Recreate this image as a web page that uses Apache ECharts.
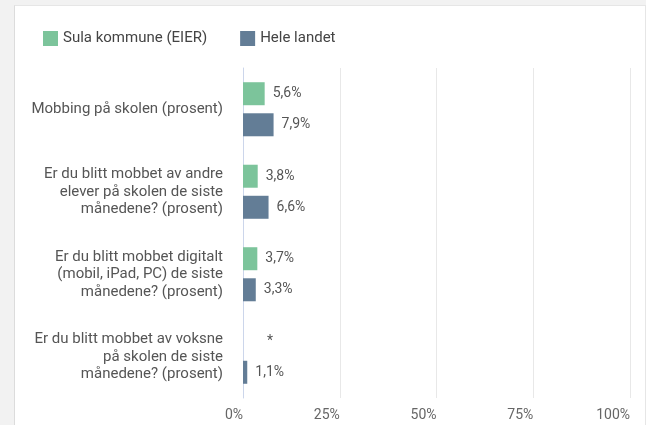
<!DOCTYPE html>
<html><head><meta charset="utf-8">
<script src="https://cdn.jsdelivr.net/npm/echarts@6/dist/echarts.min.js"></script>
<style>
html,body{margin:0;padding:0;background:#f2f2f2;width:646px;height:425px;overflow:hidden}
#card{position:absolute;left:14px;top:5px;width:630px;height:420px;background:#fff;border-left:1px solid #dcdcdc;border-top:1px solid #e6e6e6;border-right:1px solid #e6e6e6}
#chart{width:630px;height:420px}
</style></head>
<body><div id="card"><div id="chart"></div></div>
<script>
const categories = [
  'Mobbing på skolen (prosent)',
  'Er du blitt mobbet av andre\nelever på skolen de siste\nmånedene? (prosent)',
  'Er du blitt mobbet digitalt\n(mobil, iPad, PC) de siste\nmånedene? (prosent)',
  'Er du blitt mobbet av voksne\npå skolen de siste\nmånedene? (prosent)'
];
const seriesNames = ['Sula kommune (EIER)', 'Hele landet'];
const sula = [5.6, 3.8, 3.7, null];
const landet = [7.9, 6.6, 3.3, 1.1];
const xTicks = [0, 25, 50, 75, 100];

const fmt = v => (v == null ? '*' : String(v).replace('.', ',') + '%');
const chart = echarts.init(document.getElementById('chart'));
const labelStyle = {show: true, position: 'right', distance: 8, color: '#555', fontSize: 14, fontFamily: 'Roboto',
  formatter: p => fmt(p.value)};
chart.setOption({
  animation: false,
  legend: {
    left: 23, top: 20, itemWidth: 15, itemHeight: 15, itemGap: 33, icon: 'rect',
    textStyle: {color: '#444', fontSize: 15, fontFamily: 'Roboto'},
    data: seriesNames
  },
  grid: {left: 228, right: 15, top: 62, bottom: 28, containLabel: false},
  xAxis: {
    type: 'value', min: xTicks[0], max: xTicks[xTicks.length - 1], interval: 25,
    axisLine: {show: false}, axisTick: {show: false},
    splitLine: {lineStyle: {color: '#e8e8e8'}},
    axisLabel: {formatter: v => v + '%', color: '#666', fontSize: 14, fontFamily: 'Roboto', margin: 10, align: 'right'}
  },
  yAxis: {
    type: 'category', data: categories, inverse: true,
    axisLine: {lineStyle: {color: '#ccd6eb'}}, axisTick: {show: false},
    axisLabel: {color: '#555', fontSize: 15, fontFamily: 'Roboto', lineHeight: 17.5, margin: 20, align: 'right'}
  },
  series: [
    {name: seriesNames[0], type: 'bar', barWidth: 23, barGap: '35%', itemStyle: {color: '#7cc49b'},
     data: sula.map(v => v == null ? {value: 0, label: {formatter: '*', offset: [16, 0]}} : v),
     label: labelStyle},
    {name: seriesNames[1], type: 'bar', barWidth: 23, itemStyle: {color: '#637d96'},
     data: landet, label: labelStyle}
  ]
});
</script></body></html>
